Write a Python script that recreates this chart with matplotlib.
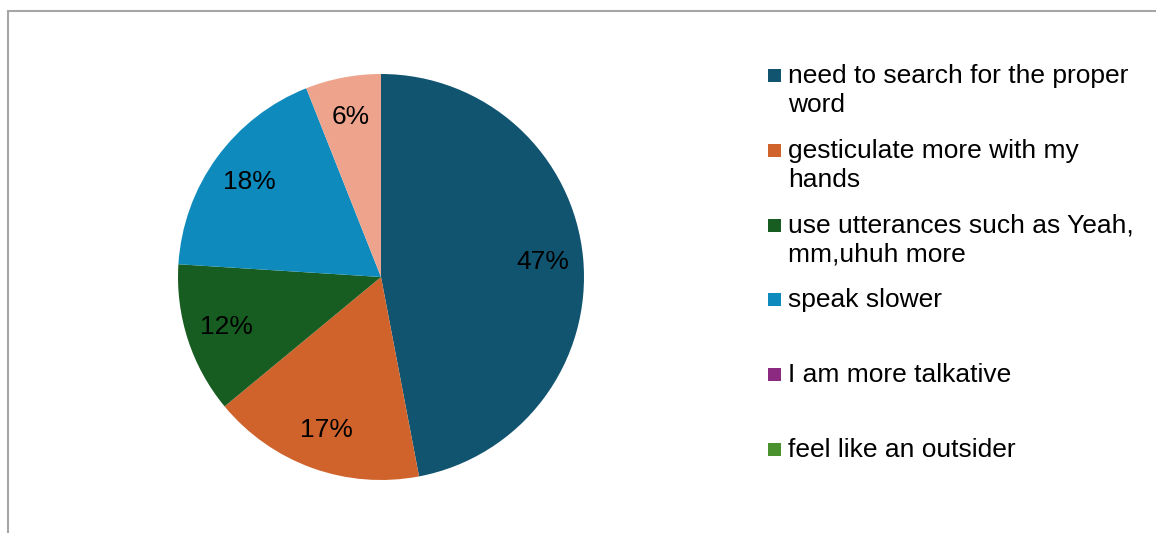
import matplotlib.pyplot as plt
from matplotlib.patches import Rectangle

plt.rcParams['font.family'] = ['Liberation Sans', 'DejaVu Sans']

# survey answers, slice order clockwise from 12 o'clock
labels = ['need to search for the proper\nword',
          'gesticulate more with my\nhands',
          'use utterances such as Yeah,\nmm,uhuh more',
          'speak slower',
          'I am more talkative',
          'feel like an outsider']
values = [47, 17, 12, 18, 0, 0, 6]
colors = ['#115470', '#D0632B', '#175C21', '#0E8ABD', '#8C2A82', '#4A922E', '#EEA48C']

W, H = 1156, 533
fig = plt.figure(figsize=(W / 100, H / 100), dpi=100)

# grey frame (runs off the right/bottom edge)
fig.patches.append(Rectangle((7.5 / W, -0.1), 1.2, (H - 11) / H + 0.1,
                             transform=fig.transFigure, fill=False,
                             edgecolor='#A6A6A6', linewidth=1.5))

cx, cy, r = 381, 277, 203
ax = fig.add_axes([(cx - r) / W, (H - cy - r) / H, 2 * r / W, 2 * r / H])
wedges, texts, autotexts = ax.pie(values, colors=colors, startangle=90, counterclock=False,
                                  autopct=lambda p: '%.0f%%' % p if p > 0 else '',
                                  pctdistance=0.8, radius=1,
                                  wedgeprops=dict(linewidth=0),
                                  textprops=dict(fontsize=19, color='black'))
ax.set_xlim(-1, 1)
ax.set_ylim(-1, 1)
ax.set_aspect('equal')
ax.axis('off')

# legend: square keys lined up with the first text line
y0, step = 75, 74.8
for i, lab in enumerate(labels):
    y = y0 + i * step
    fig.patches.append(Rectangle((768 / W, (H - y - 7) / H), 13 / W, 13 / H,
                                 transform=fig.transFigure, facecolor=colors[i],
                                 edgecolor='none'))
    fig.text(788 / W, (H - y + 11) / H, lab, fontsize=19, va='top',
             ha='left', linespacing=1.28)

fig.savefig('out.png', dpi=100)
